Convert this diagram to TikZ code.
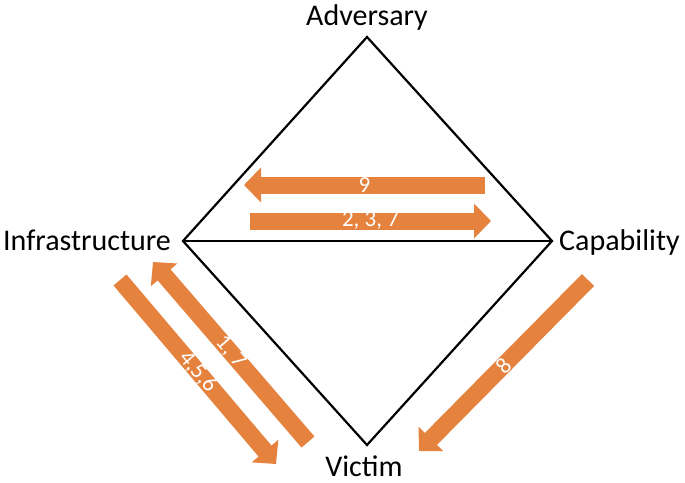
\documentclass[tikz,border=0pt]{standalone}
\usepackage{fontspec}
\setmainfont{Carlito}
\usetikzlibrary{arrows.meta}
\definecolor{flow}{RGB}{228,130,62}
\tikzset{
  vertex/.style={font=\fontsize{30}{31}\selectfont,inner sep=0pt},
  step arrow/.style={draw=flow,line width=17pt,
    -{Triangle[width=34pt,length=17pt]}},
  steplabel/.style={midway,sloped,text=white,inner sep=0pt,
    font=\fontsize{23}{24}\selectfont},
}
\begin{document}
\begin{tikzpicture}[x=1pt,y=-1pt,line join=miter]
  \useasboundingbox (0,0) rectangle (685,482);
  % corners of the diamond
  \coordinate (adv) at (367,37);
  \coordinate (inf) at (183,241);
  \coordinate (cap) at (552,241);
  \coordinate (vic) at (367,445);
  \draw[line width=2.2pt] (adv) -- (cap) -- (vic) -- (inf) -- cycle;
  \draw[line width=2.2pt] (inf) -- (cap);
  % vertex names
  \node[vertex,anchor=base] (advname) at (367,25) {Adversary};
  \node[vertex,anchor=base east] (infname) at (171,250) {Infrastructure};
  \node[vertex,anchor=base west] (capname) at (559,250) {Capability};
  \node[vertex,anchor=base] (vicname) at (364,476) {Victim};
  % ends of the numbered steps
  \coordinate (s9a) at (485,185);  \coordinate (s9b) at (244,185);
  \coordinate (s2a) at (250,221);  \coordinate (s2b) at (491,221);
  \coordinate (s1a) at (308,442);  \coordinate (s1b) at (153,262);
  \coordinate (s4a) at (120,280);  \coordinate (s4b) at (276,464);
  \coordinate (s8a) at (588,280);  \coordinate (s8b) at (419,451);
  \draw[step arrow] (s9a) -- (s9b) node[steplabel] {9};
  \draw[step arrow] (s2a) -- (s2b) node[steplabel] {2, 3, 7};
  \draw[step arrow] (s1a) -- (s1b) node[steplabel] {1, 7};
  \draw[step arrow] (s4a) -- (s4b) node[steplabel] {4,5,6};
  \draw[step arrow] (s8a) -- (s8b) node[steplabel] {8};
\end{tikzpicture}
\end{document}
